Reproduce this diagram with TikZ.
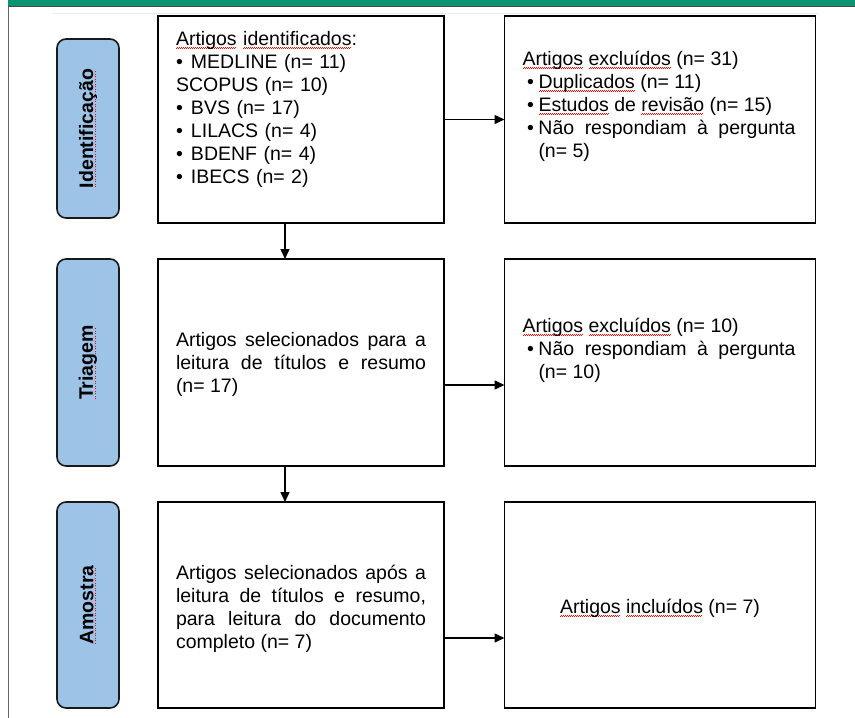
\documentclass[tikz,border=0pt]{standalone}
\usepackage{fontspec}
\setmainfont{Liberation Sans}
\usepackage{tikz}
\usetikzlibrary{positioning}
\usetikzlibrary{arrows.meta}

\definecolor{bargreen}{RGB}{10,148,112}
\definecolor{phaseblue}{RGB}{157,195,230}
\setlength\parindent{0pt}

\newcommand\spellmark[1]{\setbox0\hbox{#1}\rlap{\textcolor{red}{\leaders\hbox{\rule[-3.4pt]{1pt}{0.8pt}\rule[-2.5pt]{1pt}{0.8pt}}\hskip\wd0\relax}}\box0\relax}
\newcommand\spelldots[1]{\setbox0\hbox{#1}\rlap{\textcolor{red}{\leaders\hbox to 2.5pt{\hss\rule[-2.5pt]{1.2pt}{0.9pt}\hss}\hskip\wd0\relax}}\box0\relax}
\newcommand\bulletitem[1]{\par\hangindent=16pt\hangafter=1\noindent\makebox[16pt][c]{\textbullet}#1\par}
\newcommand\srcitem{\makebox[15pt][l]{\textbullet}}

\begin{document}
\begin{tikzpicture}
[   x=1pt, y=-1pt,
    font = \fontsize{19.5pt}{23pt}\selectfont,
    inner sep=0pt,
    outer sep=0pt,
    framebox/.style={draw=black, line width=1.8pt, minimum height=207pt},
    leftbox/.style={framebox, minimum width=286pt},
    rightbox/.style={framebox, minimum width=311pt},
    phase/.style={draw=black!90, line width=1.6pt, fill=phaseblue, rounded corners=9pt,
        rotate=90, minimum height=62pt, font=\fontsize{19.5pt}{23pt}\selectfont\bfseries},
    boxtext/.style={anchor=north west, align=justify},
    flow/.style={-{Triangle[length=10pt,width=9pt]}, line width=1.5pt}
]
\useasboundingbox (0,0) rectangle (855,718);

\fill[bargreen] (8,0) rectangle (855,6.5);
\draw[black!70, line width=1pt] (8,6.5) -- (855,6.5);
\draw[black!60, line width=1pt] (8,6.5) -- (8,718);
\draw[black!8, line width=1pt] (52,13) -- (818,13);

\node (identP) [phase, minimum width=179pt] at (88,128.5) {\spelldots{Identificação}};
\node (triP) [phase, minimum width=207pt] at (88,362.5) {\spelldots{Triagem}};
\node (amoP) [phase, minimum width=206pt] at (88,605) {\spelldots{Amostra}};

\node (identA) [leftbox] at (301,119.5) {};
\node (identB) [rightbox] at (660,119.5) {};
\node (triA) [leftbox] at (301,362.5) {};
\node (triB) [rightbox] at (660,362.5) {};
\node (amoA) [leftbox, minimum height=206pt] at (301,605) {};
\node (amoB) [rightbox, minimum height=206pt] at (660,605) {};

\node (identAtext) [boxtext, align=left, text width=250pt]
    at ([xshift=18pt, yshift=-12.9pt]identA.north west)
    {\strut\spellmark{Artigos} \spellmark{identificados}:\\
     \srcitem MEDLINE (n= 11)\\
     SCOPUS (n= 10)\\
     \srcitem BVS (n= 17)\\
     \srcitem LILACS (n= 4)\\
     \srcitem BDENF (n= 4)\\
     \srcitem IBECS (n= 2)};
\node (identBtext) [boxtext, text width=273pt]
    at ([xshift=18pt, yshift=-32.9pt]identB.north west)
    {\strut\spellmark{Artigos} \spellmark{excluídos} (n= 31)
     \bulletitem{\spellmark{Duplicados} (n= 11)}
     \bulletitem{\spellmark{Estudos} de \spellmark{revisão} (n= 15)}
     \bulletitem{Não respondiam à pergunta\linebreak (n= 5)}};
\node (triAtext) [boxtext, text width=250pt]
    at ([xshift=18pt, yshift=-70.9pt]triA.north west)
    {\strut Artigos selecionados para a\linebreak
     leitura de títulos e resumo\linebreak
     (n= 17)};
\node (triBtext) [boxtext, text width=273pt]
    at ([xshift=18pt, yshift=-56.9pt]triB.north west)
    {\strut\spellmark{Artigos} \spellmark{excluídos} (n= 10)
     \bulletitem{Não respondiam à pergunta\linebreak (n= 10)}};
\node (amoAtext) [boxtext, text width=250pt]
    at ([xshift=18pt, yshift=-60.9pt]amoA.north west)
    {\strut Artigos selecionados após a\linebreak
     leitura de títulos e resumo,\linebreak
     para leitura do documento\linebreak
     completo (n= 7)};
\node (amoBtext) [yshift=-3pt] at (amoB.center)
    {\spellmark{Artigos} \spellmark{incluídos} (n= 7)};

\draw[flow] (identA.east) -- (identB.west);
\draw[flow] ([yshift=-22.5pt]triA.east) -- ([yshift=-22.5pt]triB.west);
\draw[flow] ([yshift=-33pt]amoA.east) -- ([yshift=-33pt]amoB.west);
\draw[flow] ([xshift=-16pt]identA.south) -- ([xshift=-16pt]triA.north);
\draw[flow] ([xshift=-16pt]triA.south) -- ([xshift=-16pt]amoA.north);
\end{tikzpicture}
\end{document}
